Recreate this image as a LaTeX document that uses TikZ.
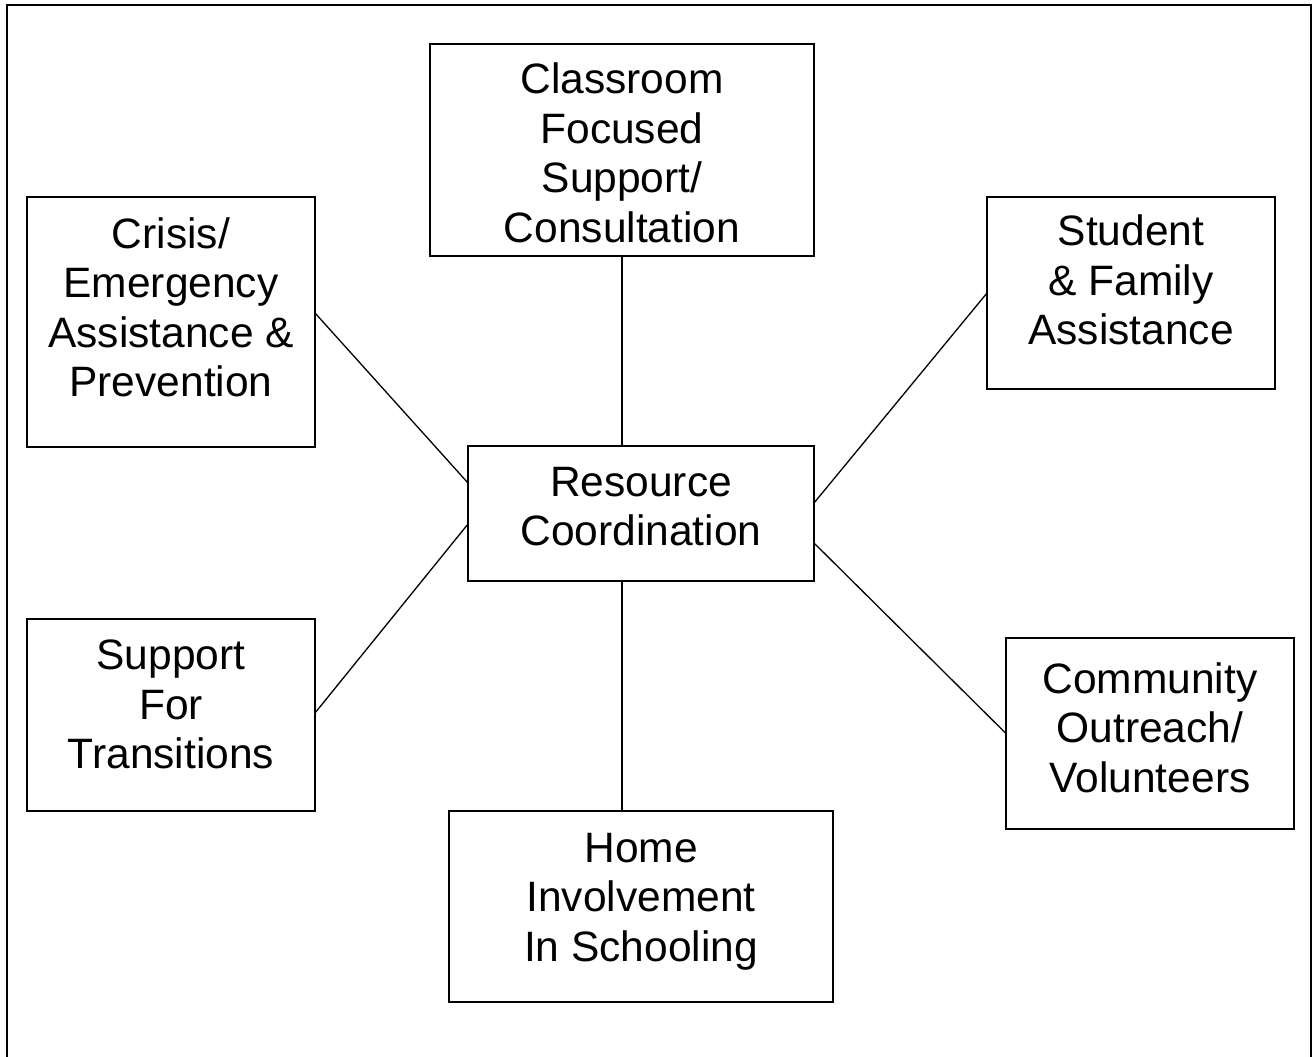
\documentclass[tikz,border=0pt]{standalone}
\usepackage{fontspec}
\setmainfont{Liberation Sans}
\usetikzlibrary{calc}
\begin{document}
\begin{tikzpicture}[x=1pt,y=-1pt,
  box/.style={draw=black, line width=1.6pt, rectangle, inner sep=0pt, outer sep=0pt},
  lbl/.style={anchor=north, align=center, inner sep=0pt,
    font=\fontsize{42.5pt}{49.5pt}\selectfont},
  conn/.style={draw=black, line width=1.3pt}]
\useasboundingbox (0,0) rectangle (1314,1057);
\draw[line width=1.6pt] (7,1080) -- (7,5) -- (1311,5) -- (1311,1080);
% boxes
\node[box, minimum width=384pt, minimum height=212pt,
  label={[lbl, yshift=-19pt]north:{Classroom\\Focused\\Support/\\Consultation}}] (cls) at (622,150) {};
\node[box, minimum width=288pt, minimum height=250pt,
  label={[lbl, yshift=-20pt]north:{Crisis/\\Emergency\\Assistance \&\\Prevention}}] (cri) at (171,322) {};
\node[box, minimum width=288pt, minimum height=192pt,
  label={[lbl, yshift=-18pt]north:{Student\\\& Family\\Assistance}}] (stu) at (1131,293) {};
\node[box, minimum width=346pt, minimum height=135pt,
  label={[lbl, yshift=-21pt]north:{Resource\\Coordination}}] (res) at (641,513.5) {};
\node[box, minimum width=288pt, minimum height=192pt,
  label={[lbl, yshift=-21pt]north:{Support\\For\\Transitions}}] (sup) at (171,715) {};
\node[box, minimum width=288pt, minimum height=191pt,
  label={[lbl, yshift=-24pt]north:{Community\\Outreach/\\Volunteers}}] (com) at (1150,733.5) {};
\node[box, minimum width=384pt, minimum height=191pt,
  label={[lbl, yshift=-22pt]north:{Home\\Involvement\\In Schooling}}] (hom) at (641,906.5) {};
% connectors
\draw[conn] (cls.south -| 622,0) -- (res.north -| 622,0);
\draw[conn] (hom.north -| 622,0) -- (res.south -| 622,0);
\draw[conn] ([yshift=9pt]cri.east) -- ([yshift=30.5pt]res.west);
\draw[conn] ([yshift=2pt]sup.east) -- ([yshift=-10.5pt]res.west);
\draw[conn] (stu.west) -- ([yshift=10.5pt]res.east);
\draw[conn] (com.west) -- ([yshift=-29.5pt]res.east);
\end{tikzpicture}
\end{document}
